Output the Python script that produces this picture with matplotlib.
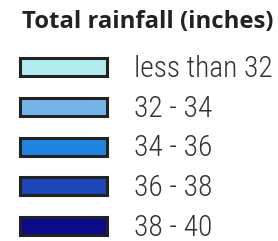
import matplotlib
matplotlib.use("Agg")
import matplotlib.pyplot as plt
from matplotlib.patches import Rectangle

title = "Total rainfall (inches)"
labels = ["less than 32", "32 - 34", "34 - 36", "36 - 38", "38 - 40"]
colors = ["#b3ecee", "#74b4ea", "#1e84e0", "#1f46b8", "#0a0a8a"]

W, H = 278, 241
fig = plt.figure(figsize=(W / 100, H / 100), dpi=100)
ax = fig.add_axes([0, 0, 1, 1])
ax.set_xlim(0, W)
ax.set_ylim(H, 0)
ax.axis("off")

title_font = dict(family=["Open Sans", "DejaVu Sans"], fontweight="bold")
label_font = dict(family=["Roboto Condensed", "DejaVu Sans"], fontweight=300)

t = ax.text(22, 28, title, fontsize=16, color="#222222", va="baseline", ha="left", **title_font)

y0, dy = 67, 39.75
texts = []
for i, (lab, c) in enumerate(zip(labels, colors)):
    y = y0 + i * dy
    ax.add_patch(Rectangle((20, y - 9), 86.5, 18, facecolor=c, edgecolor="#222222",
                           linewidth=2.2))
    texts.append(ax.text(133.5, y + 10, lab, fontsize=20, color="#333333",
                         va="baseline", ha="left", **label_font))

# fit text widths to the reference
fig.canvas.draw()
r = fig.canvas.get_renderer()
tw = t.get_window_extent(r).width
t.set_fontsize(16 * 251 / tw)
lw = texts[0].get_window_extent(r).width
for tx in texts:
    tx.set_fontsize(20 * 138.5 / lw)

fig.savefig("out.png", dpi=100)
